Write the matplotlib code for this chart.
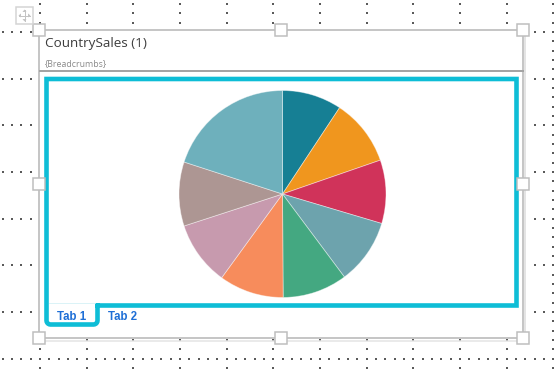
import numpy as np
import matplotlib
matplotlib.use("Agg")
import matplotlib.pyplot as plt
from matplotlib.patches import Rectangle

# ---- data ----
slice_labels = ["C1", "C2", "C3", "C4", "C5", "C6", "C7", "C8", "C9"]
slice_values = [9.3, 10.4, 9.9, 10.2, 10.1, 10.1, 10.0, 10.0, 20.0]
slice_colors = ["#167f94", "#f0961e", "#d0335a", "#6da3ad", "#44a881",
                "#f78c5c", "#c79aae", "#ad9693", "#6eb0bc"]
title_text = "CountrySales (1)"
crumb_text = "{Breadcrumbs}"
tab_labels = ["Tab 1", "Tab 2"]

W, H = 558, 370
fig = plt.figure(figsize=(W / 100, H / 100), dpi=100)
ax = fig.add_axes([0, 0, 1, 1])
PX = 0.72  # points per pixel

# ---- dotted designer grid ----
step = 46.667
sub = step / 5
col_x = 40 + step * np.arange(0, 12)
row_y = 32 + step * np.arange(0, 8)
vy = 32 + sub * np.arange(-3, 37)
hx = 40 + sub * np.arange(-4, 56)
gx = np.concatenate([np.repeat(col_x, len(vy)), np.tile(hx, len(row_y))])
gy = np.concatenate([np.tile(vy, len(col_x)), np.repeat(row_y, len(hx))])
ax.scatter(gx, gy, s=1.0, marker="s", color="#5a5a5a", linewidths=0, zorder=1)

# ---- component box ----
ax.add_patch(Rectangle((39, 30), 484, 308, facecolor="white", edgecolor="none", zorder=2))
ax.plot([525, 525], [33, 340], color="#e4e4e4", lw=2 * PX, zorder=3)
ax.plot([41, 525], [340.5, 340.5], color="#e4e4e4", lw=1.5 * PX, zorder=3)
ax.add_patch(Rectangle((39, 30), 484, 308, facecolor="none", edgecolor="#c6c6c6",
                       lw=2 * PX, zorder=4))

# header
ax.text(45, 43, title_text, fontsize=9.7, color="#3d3d3d", family="Open Sans",
        va="center", ha="left", zorder=5)
ax.text(45, 63.5, crumb_text, fontsize=6.3, color="#8a8a8a", family="Open Sans",
        va="center", ha="left", zorder=5)
ax.plot([40, 523], [70.7, 70.7], color="#a4a4a4", lw=2 * PX, zorder=5)

# cyan frame with Tab 1 notch
cyan = "#0ebdd6"
r = 4
arc1 = np.linspace(np.pi, np.pi / 2, 6)
arc2 = np.linspace(np.pi / 2, 0, 6)
fx = [97.5, 516.5, 516.5, 46.5, 46.5]
fy = [305.5, 305.5, 79, 79, 320.5]
fx += list(46.5 + r + r * np.cos(arc1))
fy += list(320.5 + r * np.sin(arc1))
fx += list(97.5 - r + r * np.cos(arc2))
fy += list(320.5 + r * np.sin(arc2))
fx += [97.5, 97.5]
fy += [320.5, 305.5]
ax.plot(fx, fy, color=cyan, lw=4.6 * PX, solid_joinstyle="miter",
        solid_capstyle="projecting", zorder=6)
ax.plot([49, 95], [303.3, 303.3], color="#d2f1f6", lw=0.8 * PX, zorder=6)

ax.text(72, 316.5, tab_labels[0], fontsize=8.3, color="#1f6fd6", family="Liberation Sans",
        weight="bold", ha="center", va="center", zorder=7)
ax.text(123, 316.5, tab_labels[1], fontsize=8.3, color="#1f6fd6", family="Liberation Sans",
        weight="bold", ha="center", va="center", zorder=7)

# ---- pie ----
wedges, _ = ax.pie(slice_values, colors=slice_colors, startangle=270, counterclock=True,
                   center=(282.5, 194), radius=103.5,
                   wedgeprops=dict(edgecolor=(1, 1, 1, 0.45), linewidth=0.6))
for w in wedges:
    w.set_zorder(5)

# ---- selection handles ----
for hxp, hyp in [(39, 30), (281, 30), (523, 30), (39, 184), (523, 184),
                 (39, 338), (281, 338), (523, 338)]:
    ax.add_patch(Rectangle((hxp - 6, hyp - 6), 12, 12, facecolor="white",
                           edgecolor="#bdbdbd", lw=1.5 * PX, zorder=8))

# ---- move icon ----
ax.add_patch(Rectangle((16, 7), 17, 17, facecolor="white", edgecolor="#d4d4d4",
                       lw=1.5 * PX, zorder=8))
cx, cy = 24.5, 15.5
ax.plot([cx - 5.5, cx + 5.5], [cy, cy], color="#c4c4c4", lw=1 * PX, zorder=9)
ax.plot([cx, cx], [cy - 5.5, cy + 5.5], color="#c4c4c4", lw=1 * PX, zorder=9)
for dx, dy in [(1, 0), (-1, 0), (0, 1), (0, -1)]:
    tipx, tipy = cx + 6 * dx, cy + 6 * dy
    bx, by = cx + 3.5 * dx, cy + 3.5 * dy
    px_, py_ = -dy * 2, dx * 2
    ax.fill([tipx, bx + px_, bx - px_], [tipy, by + py_, by - py_],
            color="#c4c4c4", lw=0, zorder=9)

ax.set_xlim(0, W)
ax.set_ylim(H, 0)
ax.set_aspect("auto")
ax.axis("off")
fig.savefig("out.png", dpi=100, facecolor="white")
